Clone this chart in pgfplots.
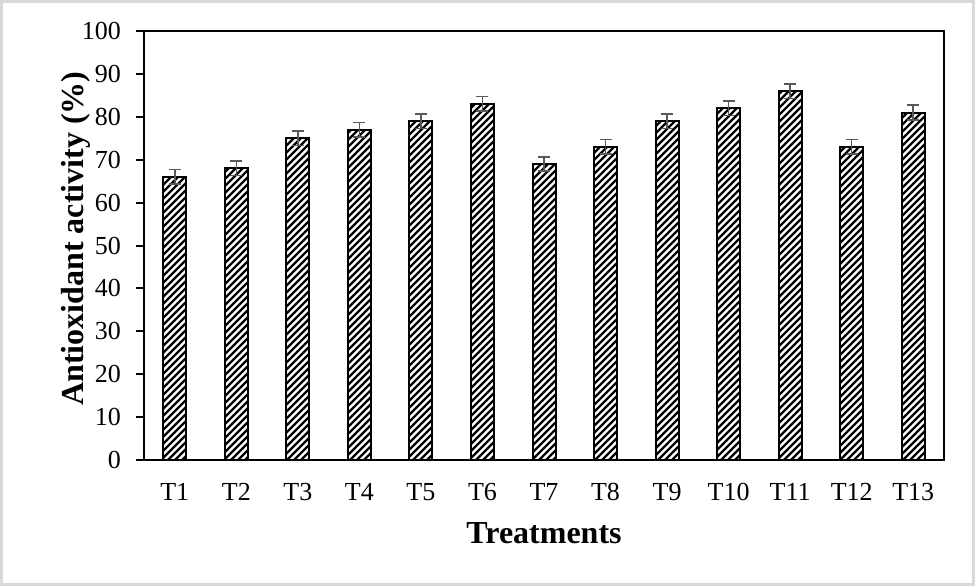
\documentclass[border=0pt]{standalone}
\usepackage{fontspec}
\setmainfont{Liberation Serif}
\usepackage{pgfplots}
\pgfplotsset{compat=1.18}
\usetikzlibrary{patterns}

\definecolor{errgray}{RGB}{89,89,89}
\definecolor{framegray}{RGB}{217,217,217}

% thicker north east hatch
\pgfdeclarepatternformonly{thickne}{\pgfqpoint{-1pt}{-1pt}}{\pgfqpoint{4.5pt}{4.5pt}}{\pgfqpoint{3.5pt}{3.5pt}}{
  \pgfsetlinewidth{1.2pt}
  \pgfpathmoveto{\pgfqpoint{0pt}{0pt}}
  \pgfpathlineto{\pgfqpoint{3.6pt}{3.6pt}}
  \pgfusepath{stroke}
}

\begin{document}
\begin{tikzpicture}
\useasboundingbox (-72pt,-63pt) rectangle (415.5pt,230pt);
\draw[framegray, line width=1.5pt] (-71.25pt,-62.25pt) rectangle (414.75pt,229.25pt);

\begin{axis}[
    at={(0,0)}, anchor=south west,
    scale only axis,
    width=400pt, height=214.5pt,
    ymin=0, ymax=100,
    xmin=-0.5, xmax=12.5,
    ytick={0,10,...,100},
    xtick={0,...,12},
    xticklabels={T1,T2,T3,T4,T5,T6,T7,T8,T9,T10,T11,T12,T13},
    major x tick style={draw=none},
    ytick pos=left,
    tick align=outside,
    ytick style={line width=1pt, black},
    major tick length=4pt,
    axis line style={line width=1pt},
    /pgf/number format/assume math mode=true,
    ticklabel style={font=\fontsize{13}{15}\selectfont},
    yticklabel style={xshift=-4pt},
    xticklabel style={yshift=-4pt},
    xlabel={Treatments},
    ylabel={Antioxidant activity (\%)},
    label style={font=\fontsize{16}{19}\selectfont\bfseries},
    xlabel style={at={(axis description cs:0.5,0)}, anchor=north, yshift=-27.5pt},
    ylabel style={at={(axis description cs:0,0.516)}, anchor=base, yshift=30pt},
]
\addplot[
    ybar, bar width=11.5pt,
    draw=black, line width=1pt,
    pattern=thickne, pattern color=black,
    error bars/.cd,
      y dir=both, y explicit,
      error bar style={errgray, line width=0.8pt},
      error mark options={rotate=90, mark size=3pt, errgray, line width=0.8pt},
] coordinates {
    (0,66) +- (0,1.7)
    (1,68) +- (0,1.7)
    (2,75) +- (0,1.7)
    (3,77) +- (0,1.7)
    (4,79) +- (0,1.7)
    (5,83) +- (0,1.7)
    (6,69) +- (0,1.7)
    (7,73) +- (0,1.7)
    (8,79) +- (0,1.7)
    (9,82) +- (0,1.7)
    (10,86) +- (0,1.7)
    (11,73) +- (0,1.7)
    (12,81) +- (0,1.7)
};
\end{axis}
\end{tikzpicture}
\end{document}
